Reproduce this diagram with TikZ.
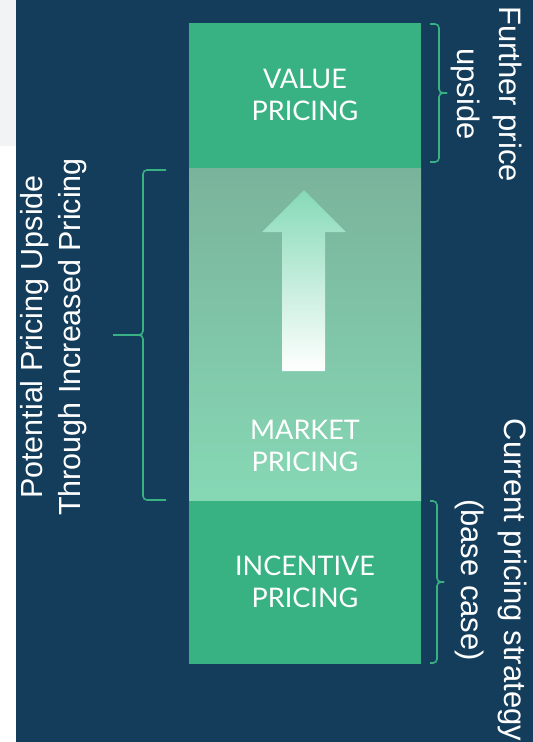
\documentclass[tikz,border=0pt]{standalone}
\usepackage{fontspec}
\setmainfont{Liberation Sans}
\newfontfamily\tierfont{Lato}
\usepackage{tikz}

\definecolor{navy}{HTML}{143D5C}
\definecolor{paper}{HTML}{F2F3F5}
\definecolor{tiergreen}{HTML}{38B283}
\definecolor{markettop}{HTML}{7AB39B}
\definecolor{marketbot}{HTML}{86D8B5}
\definecolor{arrowtop}{HTML}{86DAB8}

\begin{document}
\begin{tikzpicture}[x=1pt,y=-1pt,
	tier/.style={fill=tiergreen, minimum width=232pt, inner sep=0pt, text=white,
		align=center, font=\tierfont\fontsize{27}{32}\selectfont},
	side/.style={text=white, align=center, inner sep=0pt},
	bracket/.style={draw=tiergreen, line width=1.6pt, rounded corners=4pt}]
\useasboundingbox (0,0) rectangle (533,742);
\fill[navy] (16,0) rectangle (533,742);
\fill[paper] (0,0) rectangle (16,146);
\fill[white] (0,146) rectangle (16,742);

\path (305,334) node[tier, minimum height=334pt, fill=none, top color=markettop, bottom color=marketbot] (market) {}
		(305,95) node[tier, minimum height=145pt] (value) {VALUE\\PRICING}
		(305,582) node[tier, minimum height=163pt] (incentive) {INCENTIVE\\PRICING}
		(305,446) node[tier, fill=none, minimum width=0pt] (marketlbl) {MARKET\\PRICING}
		;
\shade[top color=arrowtop, bottom color=white]
	(304,190) -- (346,232) -- (325,232) -- (325,371) -- (282,371) -- (282,232) -- (262,232) -- cycle;

% braces
\draw[bracket] (430,24) -| (439,93) -- (447,93);
\draw[bracket] (447,93) -- (439,93) |- (430,162);
\draw[bracket] (430,501) -| (437,582) -- (444,582);
\draw[bracket] (444,582) -- (437,582) |- (430,663);
\draw[bracket] (166,170) -| (143,335) -- (113,335);
\draw[bracket] (113,335) -- (143,335) |- (166,500);

\path (487,94) node[side, rotate=-90, font=\fontsize{31}{42}\selectfont] (upside) {Further price\\upside}
		(491,580) node[side, rotate=-90, font=\fontsize{31}{43}\selectfont] (current) {Current pricing strategy\\(base case)}
		(54,337) node[side, rotate=90, font=\fontsize{30.5}{38}\selectfont] (potential) {Potential Pricing Upside\\Through Increased Pricing}
		;
\end{tikzpicture}
\end{document}
